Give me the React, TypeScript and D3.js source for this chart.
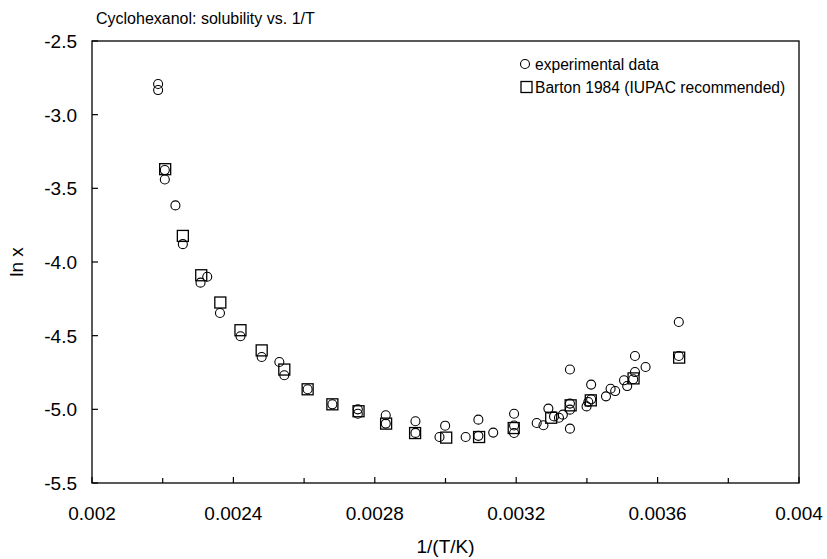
import React from "react";
import * as d3 from "d3";

const expX = [0.002187, 0.002187, 0.002206, 0.002206, 0.002236, 0.002257, 0.002307, 0.002326, 0.002362, 0.00242, 0.00248, 0.00253, 0.002544, 0.00261, 0.00268, 0.002752, 0.002752, 0.002831, 0.002831, 0.002915, 0.002915, 0.002983, 0.002999, 0.003057, 0.003093, 0.003093, 0.003135, 0.003194, 0.003194, 0.003194, 0.003258, 0.003277, 0.003291, 0.003307, 0.003321, 0.003332, 0.003352, 0.003352, 0.003352, 0.003352, 0.003399, 0.003404, 0.003412, 0.003412, 0.003454, 0.003467, 0.00348, 0.003505, 0.003514, 0.003531, 0.003536, 0.003536, 0.003566, 0.00366, 0.00366];
const expY = [-2.792, -2.833, -3.376, -3.44, -3.616, -3.879, -4.14, -4.1, -4.346, -4.504, -4.645, -4.679, -4.769, -4.864, -4.966, -5.0, -5.03, -5.04, -5.097, -5.081, -5.16, -5.188, -5.111, -5.188, -5.07, -5.18, -5.158, -5.03, -5.11, -5.161, -5.093, -5.108, -4.995, -5.048, -5.057, -5.036, -4.73, -4.961, -5.002, -5.131, -4.98, -4.95, -4.932, -4.832, -4.912, -4.86, -4.876, -4.803, -4.842, -4.796, -4.747, -4.638, -4.713, -4.407, -4.638];

const bartonX = [0.002207, 0.002257, 0.002309, 0.002363, 0.00242, 0.00248, 0.002544, 0.00261, 0.00268, 0.002754, 0.002832, 0.002914, 0.003002, 0.003095, 0.003193, 0.003299, 0.003354, 0.003411, 0.003532, 0.003661];
const bartonY = [-3.37, -3.823, -4.09, -4.275, -4.463, -4.6, -4.73, -4.864, -4.966, -5.013, -5.097, -5.161, -5.192, -5.188, -5.127, -5.057, -4.973, -4.939, -4.79, -4.649];

const xMajorTicks = [0.002, 0.0024, 0.0028, 0.0032, 0.0036, 0.004];
const xTickLabels = ["0.002", "0.0024", "0.0028", "0.0032", "0.0036", "0.004"];
const xMinorTicks = [0.0022, 0.0026, 0.003, 0.0034, 0.0038];
const yTicks = [-2.5, -3.0, -3.5, -4.0, -4.5, -5.0, -5.5];
const yTickLabels = ["-2.5", "-3.0", "-3.5", "-4.0", "-4.5", "-5.0", "-5.5"];

const titleText = "Cyclohexanol: solubility vs. 1/T";
const xTitle = "1/(T/K)";
const yTitle = "ln x";
const legendLabels = ["experimental data", "Barton 1984 (IUPAC recommended)"];

const W = 827;
const H = 559;
const L = 92, R = 799, T = 41, B = 483;
const FONT = "'Liberation Sans', Arial, sans-serif";

export default function App() {
  const x = d3.scaleLinear().domain([0.002, 0.004]).range([L, R]);
  const y = d3.scaleLinear().domain([-5.5, -2.5]).range([B, T]);
  const sq = 11;
  return (
    <svg width={W} height={H} style={{ position: "absolute", left: 0, top: 0, background: "#fff" }} fontFamily={FONT}>
      <rect x={0} y={0} width={W} height={H} fill="#fff" />
      <text x={96} y={24} fontSize={16} fill="#000">{titleText}</text>
      <rect x={L} y={T} width={R - L} height={B - T} fill="none" stroke="#000" strokeWidth={1.3} />
      {xMajorTicks.map((v, i) => (
        <g key={"xt" + i}>
          <line x1={x(v)} x2={x(v)} y1={B} y2={B - 6} stroke="#000" strokeWidth={1.2} />
          <text x={x(v)} y={520} fontSize={19} textAnchor="middle" fill="#000">{xTickLabels[i]}</text>
        </g>
      ))}
      {xMinorTicks.map((v, i) => (
        <line key={"xm" + i} x1={x(v)} x2={x(v)} y1={B} y2={B - 5} stroke="#000" strokeWidth={1.2} />
      ))}
      {yTicks.map((v, i) => (
        <g key={"yt" + i}>
          <line x1={L} x2={L + 6} y1={y(v)} y2={y(v)} stroke="#000" strokeWidth={1.2} />
          <text x={77} y={y(v) + 7} fontSize={19} textAnchor="end" fill="#000">{yTickLabels[i]}</text>
        </g>
      ))}
      <text x={(L + R) / 2} y={553} fontSize={19} textAnchor="middle" fill="#000">{xTitle}</text>
      <text transform={`translate(23, ${(T + B) / 2}) rotate(-90)`} fontSize={19} textAnchor="middle" fill="#000">{yTitle}</text>
      {bartonX.map((v, i) => (
        <rect key={"b" + i} x={x(v) - sq / 2} y={y(bartonY[i]) - sq / 2} width={sq} height={sq} fill="none" stroke="#000" strokeWidth={1.3} />
      ))}
      {expX.map((v, i) => (
        <circle key={"e" + i} cx={x(v)} cy={y(expY[i])} r={4.5} fill="none" stroke="#000" strokeWidth={1.1} />
      ))}
      <circle cx={525} cy={64} r={4.5} fill="none" stroke="#000" strokeWidth={1.1} />
      <text x={535} y={69.5} fontSize={15.6} fill="#000">{legendLabels[0]}</text>
      <rect x={526.5 - sq / 2} y={87 - sq / 2} width={sq} height={sq} fill="none" stroke="#000" strokeWidth={1.3} />
      <text x={535} y={92.5} fontSize={15.6} fill="#000">{legendLabels[1]}</text>
    </svg>
  );
}
